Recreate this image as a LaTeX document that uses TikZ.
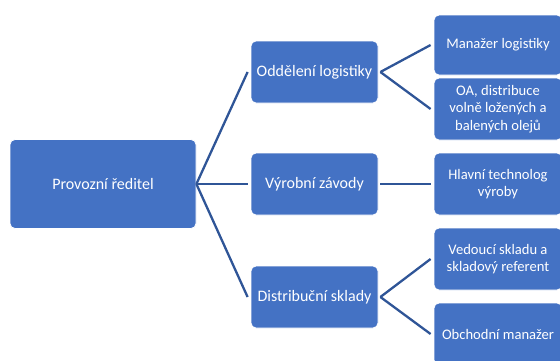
\documentclass[tikz,border=0pt]{standalone}
\usepackage{fontspec}
\setmainfont{Carlito}
\definecolor{boxblue}{HTML}{4472C4}
\definecolor{linkblue}{HTML}{2F5597}
\begin{document}
\begin{tikzpicture}[x=1pt,y=-1pt,
  box/.style={draw=white,line width=0.8pt,fill=boxblue,rounded corners=5pt,text=white,align=center,inner sep=0pt},
  rootbox/.style={box,minimum width=186pt,minimum height=89pt,font=\fontsize{16}{19}\selectfont},
  midbox/.style={box,minimum width=127pt,minimum height=62pt,font=\fontsize{16}{19}\selectfont},
  leafbox/.style={box,minimum width=128pt,minimum height=62pt,font=\fontsize{14.6}{17.2}\selectfont},
  link/.style={draw=linkblue,line width=2.3pt}]
\path[use as bounding box] (0,0) rectangle (560,360);
\begin{scope}
\clip (0,0) rectangle (560,360);
\node[rootbox] (root) at (103,184) {Provozní ředitel};
\node[midbox] (ol) at (314.5,72) {Oddělení logistiky};
\node[midbox] (vz) at (314.5,184) {Výrobní závody};
\node[midbox] (ds) at (314.5,297) {Distribuční sklady};
\node[leafbox,minimum height=60pt] (ml) at (498,45) {Manažer logistiky};
\node[leafbox] (oa) at (498,109) {OA, distribuce\\volně ložených a\\balených olejů};
\node[leafbox] (ht) at (498,184) {Hlavní technolog\\výroby};
\node[leafbox] (vs) at (498,259) {Vedoucí skladu a\\skladový referent};
\node[leafbox] (om) at (498,334) {Obchodní manažer};
\draw[link] (root.east) -- ([xshift=-3pt]ol.west);
\draw[link] (root.east) -- ([xshift=-3pt]vz.west);
\draw[link] (root.east) -- ([xshift=-3pt]ds.west);
\draw[link] ([xshift=2pt]ol.east) -- ([xshift=-3pt]ml.west);
\draw[link] ([xshift=2pt]ol.east) -- ([xshift=-3pt]oa.west);
\draw[link] ([xshift=2pt]vz.east) -- ([xshift=-3pt]ht.west);
\draw[link] ([xshift=2pt]ds.east) -- ([xshift=-3pt]vs.west);
\draw[link] ([xshift=2pt]ds.east) -- ([xshift=-3pt]om.west);
\end{scope}
\end{tikzpicture}
\end{document}
